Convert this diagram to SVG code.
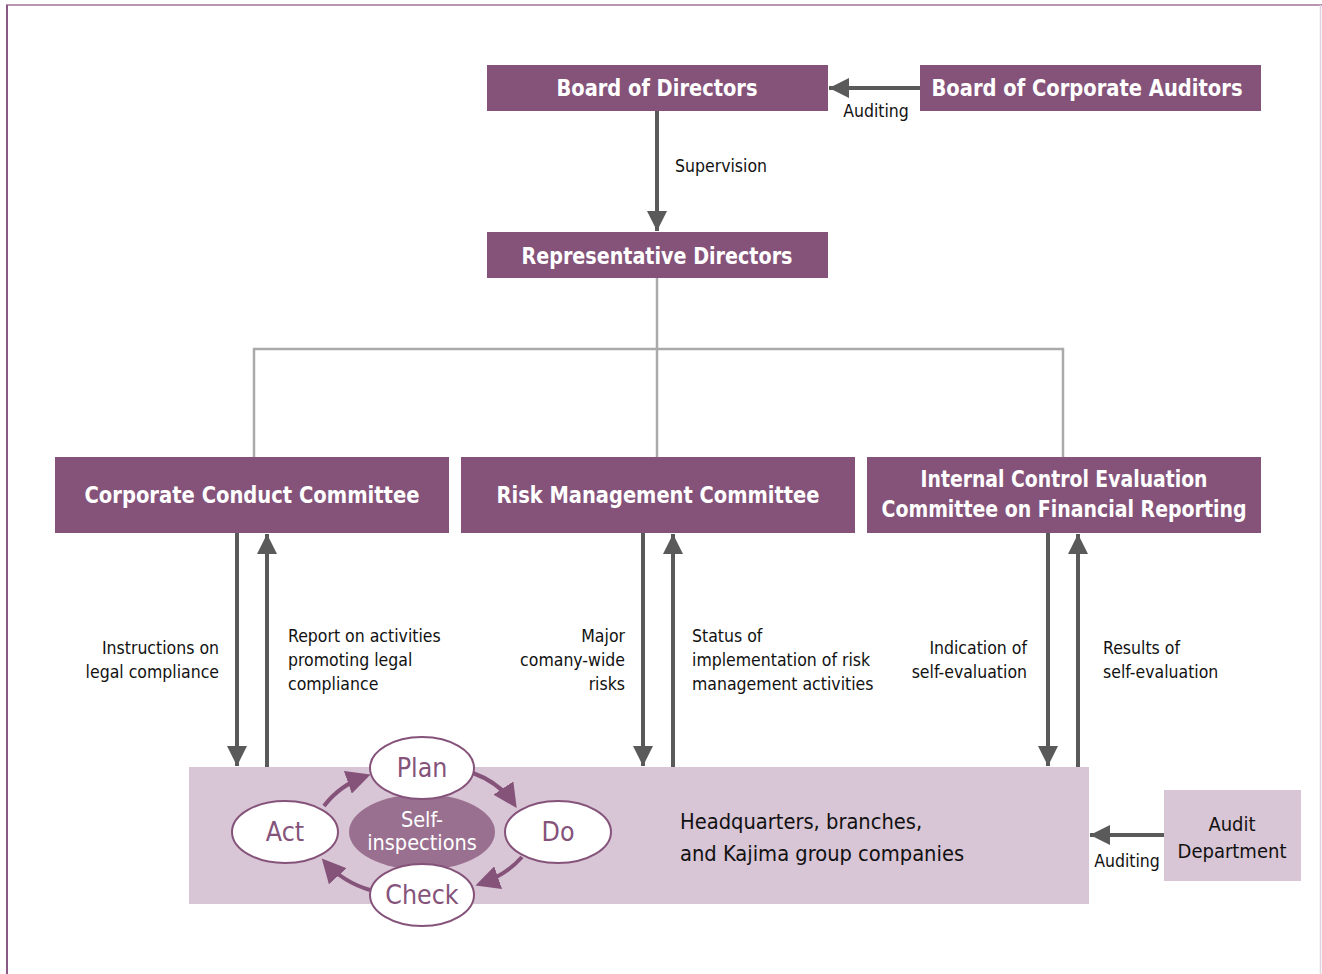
<svg xmlns="http://www.w3.org/2000/svg" width="1322" height="974" viewBox="0 0 1322 974">
<style>
.box{fill:#85537a}
.lt{fill:#d8c5d5}
.bt{font-family:"DejaVu Sans",sans-serif;font-stretch:condensed;font-weight:bold;font-size:23px;fill:#fff;text-anchor:middle}
.lb{font-family:"DejaVu Sans",sans-serif;font-stretch:condensed;font-size:17.5px;fill:#111}
.big{font-family:"DejaVu Sans",sans-serif;font-stretch:condensed;font-size:21.7px;fill:#111}
.pd{font-family:"DejaVu Sans",sans-serif;font-stretch:condensed;font-size:26.5px;fill:#85537a;text-anchor:middle}
.ar{stroke:#5a5a5a;stroke-width:4;fill:none}
.gl{stroke:#aaaaaa;stroke-width:2.5;fill:none}
.cy{stroke:#85537a;stroke-width:4;fill:none}
.el{fill:#fff;stroke:#85537a;stroke-width:2}
</style>
<defs>
<marker id="ah" viewBox="0 0 10 10" refX="10" refY="5" markerWidth="5" markerHeight="5" orient="auto" markerUnits="strokeWidth"><path d="M0,0 L10,5 L0,10 z" fill="#5a5a5a"/></marker>
<marker id="pa" viewBox="0 0 10 10" refX="8" refY="5" markerWidth="6" markerHeight="6" orient="auto" markerUnits="strokeWidth"><path d="M0,0 L10,5 L0,10 z" fill="#85537a"/></marker>
</defs>
<rect width="1322" height="974" fill="#fff"/>
<g id="frame">
<line x1="6" y1="5" x2="1322" y2="5" stroke="#b896b6" stroke-width="2"/>
<line x1="7" y1="5" x2="7" y2="974" stroke="#8a5a84" stroke-width="2"/>
<line x1="1320.5" y1="5" x2="1320.5" y2="974" stroke="#e0d4e0" stroke-width="1.5"/>
</g>
<g id="connectors">
<line class="ar" x1="920" y1="88" x2="829" y2="88" marker-end="url(#ah)"/>
<line class="ar" x1="657" y1="111" x2="657" y2="231" marker-end="url(#ah)"/>
<path class="gl" d="M657,278 V457 M254,457 V349 H1063 V457"/>
<line class="ar" x1="237" y1="533" x2="237" y2="766" marker-end="url(#ah)"/>
<line class="ar" x1="267" y1="767" x2="267" y2="534" marker-end="url(#ah)"/>
<line class="ar" x1="643" y1="533" x2="643" y2="766" marker-end="url(#ah)"/>
<line class="ar" x1="673" y1="767" x2="673" y2="534" marker-end="url(#ah)"/>
<line class="ar" x1="1048" y1="533" x2="1048" y2="766" marker-end="url(#ah)"/>
<line class="ar" x1="1078" y1="767" x2="1078" y2="534" marker-end="url(#ah)"/>
<line class="ar" x1="1164" y1="835" x2="1090" y2="835" marker-end="url(#ah)"/>
<text class="lb" x="876" y="117" text-anchor="middle">Auditing</text>
<text class="lb" x="675" y="172">Supervision</text>
<text class="lb" text-anchor="end"><tspan x="219" y="654">Instructions on</tspan><tspan x="219" y="678">legal compliance</tspan></text>
<text class="lb"><tspan x="288" y="642">Report on activities</tspan><tspan x="288" y="666">promoting legal</tspan><tspan x="288" y="690">compliance</tspan></text>
<text class="lb" text-anchor="end"><tspan x="625" y="642">Major</tspan><tspan x="625" y="666">comany-wide</tspan><tspan x="625" y="690">risks</tspan></text>
<text class="lb"><tspan x="692" y="642">Status of</tspan><tspan x="692" y="666">implementation of risk</tspan><tspan x="692" y="690">management activities</tspan></text>
<text class="lb" text-anchor="end"><tspan x="1027" y="654">Indication of</tspan><tspan x="1027" y="678">self-evaluation</tspan></text>
<text class="lb"><tspan x="1103" y="654">Results of</tspan><tspan x="1103" y="678">self-evaluation</tspan></text>
<text class="lb" x="1127" y="867" text-anchor="middle">Auditing</text>
</g>
<g id="board">
<rect class="box" x="487" y="65" width="341" height="46"/>
<text class="bt" x="657" y="96" textLength="201" lengthAdjust="spacingAndGlyphs">Board of Directors</text>
</g>
<g id="auditors">
<rect class="box" x="920" y="65" width="341" height="46"/>
<text class="bt" x="1087" y="96" textLength="311" lengthAdjust="spacingAndGlyphs">Board of Corporate Auditors</text>
</g>
<g id="rep">
<rect class="box" x="487" y="232" width="341" height="46"/>
<text class="bt" x="657" y="264" textLength="271" lengthAdjust="spacingAndGlyphs">Representative Directors</text>
</g>
<g id="ccc">
<rect class="box" x="55" y="457" width="394" height="76"/>
<text class="bt" x="252" y="503" textLength="335" lengthAdjust="spacingAndGlyphs">Corporate Conduct Committee</text>
</g>
<g id="rmc">
<rect class="box" x="461" y="457" width="394" height="76"/>
<text class="bt" x="658" y="503" textLength="323" lengthAdjust="spacingAndGlyphs">Risk Management Committee</text>
</g>
<g id="ice">
<rect class="box" x="867" y="457" width="394" height="76"/>
<text class="bt" x="1064" y="487" textLength="287" lengthAdjust="spacingAndGlyphs">Internal Control Evaluation</text>
<text class="bt" x="1064" y="517" textLength="365" lengthAdjust="spacingAndGlyphs">Committee on Financial Reporting</text>
</g>
<g id="hq">
<rect class="lt" x="189" y="767" width="900" height="137"/>
<text class="big"><tspan x="680" y="829">Headquarters, branches,</tspan><tspan x="680" y="861">and Kajima group companies</tspan></text>
</g>
<g id="audit">
<rect class="lt" x="1164" y="790" width="137" height="91"/>
<text class="lb" text-anchor="middle" style="font-size:20px"><tspan x="1232" y="831">Audit</tspan><tspan x="1232" y="858">Department</tspan></text>
</g>
<g id="pdca">
<ellipse cx="422" cy="832" rx="73" ry="38" fill="#9a7090"/>
<text text-anchor="middle" style="font-family:'DejaVu Sans',sans-serif;font-stretch:condensed;font-size:21.5px;fill:#fff"><tspan x="422" y="827">Self-</tspan><tspan x="422" y="850">inspections</tspan></text>
<path class="cy" d="M473,773 Q500,783 514,804" marker-end="url(#pa)"/>
<path class="cy" d="M522,857 Q506,875 480,884" marker-end="url(#pa)"/>
<path class="cy" d="M370,890 Q343,882 325,862" marker-end="url(#pa)"/>
<path class="cy" d="M324,806 Q340,785 366,776" marker-end="url(#pa)"/>
<ellipse class="el" cx="422" cy="768" rx="52" ry="31"/>
<text class="pd" x="422" y="777">Plan</text>
<ellipse class="el" cx="558" cy="832" rx="53" ry="31"/>
<text class="pd" x="558" y="841">Do</text>
<ellipse class="el" cx="422" cy="895" rx="52" ry="31"/>
<text class="pd" x="422" y="904">Check</text>
<ellipse class="el" cx="285" cy="832" rx="53" ry="31"/>
<text class="pd" x="285" y="841">Act</text>
</g>
</svg>
